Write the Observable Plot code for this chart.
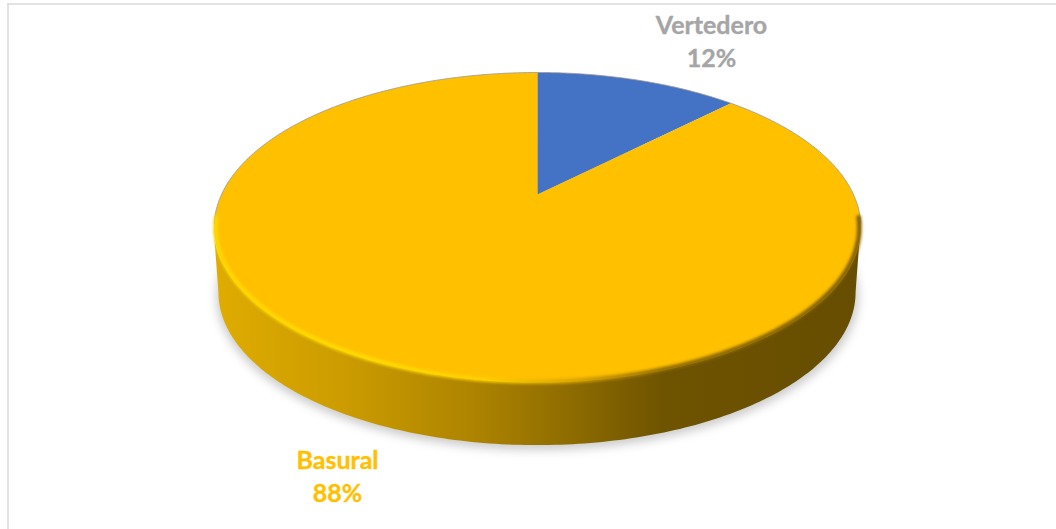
<!DOCTYPE html>
<html><head><meta charset="utf-8">
<script src="https://cdn.jsdelivr.net/npm/d3@7"></script>
<script src="https://cdn.jsdelivr.net/npm/@observablehq/plot@0.6"></script>
<style>html,body{margin:0;padding:0;background:#fff}svg{display:block}</style>
</head><body><div id="chart"></div>
<script>
const categories = ["Vertedero", "Basural"];
const shares = [12.45, 87.55];
const sliceColors = ["#4472C4", "#FFC000"];
const labelColors = ["#A5A5A5", "#FFC000"];

// Unit-disc pie seen in perspective; px/py map it onto the page through the scales.
const tilt = 0.213, wallDrop = 0.445, baseShrink = 0.985;
const project = (X, Y, drop = 0, s = 1) => {
  const f = 1 / (1 + tilt * Y);
  return {x: X * f * s, y: Y * f * s - drop};
};
const onRim = (turn, drop, s) => project(Math.sin(turn * 2 * Math.PI), Math.cos(turn * 2 * Math.PI), drop, s);
const sweep = (from, to, drop = 0, s = 1) => d3.range(0, 181).map(i => onRim(from + (to - from) * i / 180, drop, s));
const px = d => 537 + 316 * d.x, py = d => 194 - 148 * d.y;

const total = d3.sum(shares);
let acc = 0;
const slices = categories.map((name, i) => {
  const start = acc / total; acc += shares[i]; const end = acc / total;
  return {name, color: sliceColors[i], pts: [project(0, 0), ...sweep(start, end)]};
});
// side wall: between the two widest points of the top face, through the front
const leftWide = 0.716, rightWide = 0.284;
const wall = d3.range(0, 181).map(i => {
  const t = leftWide + (rightWide - leftWide) * i / 180;
  const a = onRim(t, 0, 1), b = onRim(t, wallDrop, baseShrink);
  return {x1: a.x, y1: a.y, x2: b.x, y2: b.y};
});
const frontRim = sweep(leftWide + 0.01, rightWide - 0.01, 0, 0.995);
const base = sweep(0, 1, wallDrop + 0.02, baseShrink * 1.008);

const defs = () => {
  const svg = d3.create("svg:defs");
  const grad = (id, stops) => {
    const g = svg.append("linearGradient").attr("id", id)
      .attr("gradientUnits", "userSpaceOnUse").attr("x1", 213).attr("x2", 860).attr("y1", 0).attr("y2", 0);
    stops.forEach(([o, c]) => g.append("stop").attr("offset", o).attr("stop-color", c));
  };
  grad("wallG", [[0, "#E0AC00"], [0.2, "#CC9C00"], [0.4, "#AE8400"], [0.55, "#8E6C00"], [0.7, "#6E5300"], [1, "#664D00"]]);
  grad("rimG", [[0, "#FFD800"], [0.25, "#FFDC00"], [0.42, "#FFD000"], [0.56, "#D8A200"], [0.7, "#8A6800"], [1, "#7A5C00"]]);
  return svg.node();
};

const labels = [
  {x: 711, y: 25, text: categories[0], c: labelColors[0]},
  {x: 711, y: 58, text: `${Math.round(shares[0])}%`, c: labelColors[0]},
  {x: 337, y: 460, text: categories[1], c: labelColors[1]},
  {x: 337, y: 493, text: `${Math.round(shares[1])}%`, c: labelColors[1]}
];

const plot = Plot.plot({
  width: 1056, height: 529,
  margin: 0,
  x: {domain: [0, 1056], range: [0, 1056], axis: null},
  y: {domain: [0, 529], range: [0, 529], axis: null},
  marks: [
    defs,
    // frame
    Plot.ruleY([3.5], {x1: 7, x2: 1056, stroke: "#DADADA", strokeWidth: 1.5}),
    Plot.ruleX([7.5], {y1: 3.5, y2: 529, stroke: "#DADADA", strokeWidth: 1.5}),
    // soft shadow
    Plot.line(base, {x: px, y: py, fill: "#000", fillOpacity: 0.2, stroke: "none", imageFilter: "blur(5px)", curve: "linear-closed"}),
    // side wall
    Plot.area(wall, {x1: d => px({x: d.x1}), y1: d => py({y: d.y1}), x2: d => px({x: d.x2}), y2: d => py({y: d.y2}), fill: "url(#wallG)"}),
    // top face
    ...slices.map(s => Plot.line(s.pts, {x: px, y: py, fill: s.color, stroke: "none", curve: "linear-closed"})),
    // thin rim line on the back
    Plot.line(sweep(0.72, 1.28), {x: px, y: py, stroke: "#999", strokeWidth: 0.8}),
    Plot.ruleX([537], {y1: 72, y2: 194, stroke: "#B9A66B", strokeWidth: 0.8}),
    // bevel on the front rim
    Plot.line(frontRim, {x: px, y: py, stroke: "url(#rimG)", strokeWidth: 4.5, imageFilter: "blur(1.8px)"}),
    // labels
    Plot.text(labels, {x: "x", y: "y", text: "text", fill: "c", stroke: "c", strokeWidth: 0.35, fontSize: 25, fontWeight: 700, fontFamily: "Lato, 'Open Sans', sans-serif", textAnchor: "middle"})
  ]
});
document.getElementById("chart").append(plot);
</script></body></html>
